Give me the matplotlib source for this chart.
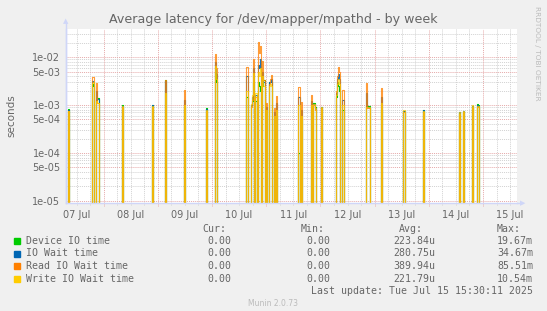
import numpy as np
import matplotlib
matplotlib.use("Agg")
import matplotlib.pyplot as plt

# ---------------- data ----------------
# hours after 07 Jul 00:00 (30-minute samples that are non-zero)
spike_hours = [8.5, 19.0, 19.5, 21.0, 21.5, 32.5, 45.5, 51.5, 60.0, 69.5,
               73.5, 74.0, 87.5, 89.5, 90.0, 90.5, 91.5, 92.5, 93.0, 93.5,
               94.5, 95.0, 96.0, 97.5, 98.0, 98.5, 99.5, 100.5, 110.5, 111.5,
               116.0, 117.0, 117.5, 118.0, 120.5, 127.0, 127.5, 128.0, 128.5, 130.0,
               140.5, 141.0, 141.5, 147.0, 157.0, 165.5, 181.5, 183.5, 187.5, 189.5,
               190.0]
device_io = [8.3e-4, 2.7e-3, 2.5e-3, 1.3e-3, 1.4e-3, 1.0e-3, 1.02e-3, 3.3e-3, 9.0e-4, 8.6e-4,
             5.0e-3, 3.0e-3, 1.5e-3, 1.0e-3, 1.2e-3, 3.0e-3, 1.2e-3, 3.0e-3, 2.5e-3, 1.95e-3,
             2.5e-3, 3.3e-3, 8.0e-4, 3.1e-3, 3.0e-3, 3.1e-3, 5.0e-4, 6.0e-4, 1.0e-4, 5.0e-4,
             8.0e-4, 1.09e-3, 1.09e-3, 9.0e-4, 9.1e-4, 1.5e-3, 3.1e-3, 2.5e-3, 2.0e-3, 8.0e-4,
             9.4e-4, 9.4e-4, 9.4e-4, 8.0e-4, 7.5e-4, 8.0e-4, 7.2e-4, 7.2e-4, 9.8e-4, 1.04e-3,
             1.0e-3]
io_wait = [8.0e-4, 3.2e-3, 3.0e-3, 2.0e-3, 1.35e-3, 9.8e-4, 1.0e-3, 3.2e-3, 1.3e-3, 8.3e-4,
           8.0e-3, 4.5e-3, 4.0e-3, 1.0e-3, 1.5e-3, 6.0e-3, 1.6e-3, 6.8e-3, 6.0e-3, 9.0e-3,
           5.0e-3, 3.0e-3, 9.0e-4, 3.0e-3, 3.0e-3, 3.5e-3, 7.0e-4, 1.1e-3, 1.5e-3, 8.0e-4,
           1.2e-3, 1.05e-3, 1.05e-3, 8.8e-4, 9.0e-4, 1.8e-3, 3.5e-3, 4.5e-3, 3.5e-3, 1.3e-3,
           1.8e-3, 9.2e-4, 9.2e-4, 1.5e-3, 7.5e-4, 7.8e-4, 7.0e-4, 7.4e-4, 9.6e-4, 1.0e-3,
           9.8e-4]
read_io_wait = [7.5e-4, 3.9e-3, 3.9e-3, 2.9e-3, 1.1e-3, 9.0e-4, 9.0e-4, 3.3e-3, 2.1e-3, 7.5e-4,
                1.17e-2, 6.0e-3, 6.2e-3, 9.0e-4, 1.3e-3, 9.2e-3, 1.5e-3, 2.1e-2, 1.2e-2, 1.7e-2,
                8.2e-3, 3.4e-3, 1.1e-3, 2.7e-3, 3.5e-3, 4.3e-3, 8.7e-4, 1.57e-3, 2.4e-3, 1.16e-3,
                1.6e-3, 1.0e-3, 1.0e-3, 8.0e-4, 8.5e-4, 2.0e-3, 4.0e-3, 6.3e-3, 5.0e-3, 2.07e-3,
                2.9e-3, 8.5e-4, 8.5e-4, 2.3e-3, 7.0e-4, 7.0e-4, 6.5e-4, 7.0e-4, 9.0e-4, 9.0e-4,
                9.0e-4]
write_io_wait = [7.6e-4, 2.9e-3, 3.0e-3, 1.2e-3, 1.1e-3, 9.4e-4, 9.5e-4, 1.8e-3, 1.0e-3, 7.8e-4,
                 6.5e-3, 3.5e-3, 2.0e-3, 1.05e-3, 1.65e-3, 4.7e-3, 1.8e-3, 5.0e-3, 4.0e-3, 6.0e-3,
                 4.0e-3, 2.5e-3, 8.0e-4, 2.5e-3, 2.8e-3, 2.5e-3, 6.0e-4, 8.0e-4, 1.0e-3, 6.0e-4,
                 1.0e-3, 1.05e-3, 1.05e-3, 8.5e-4, 9.0e-4, 1.6e-3, 2.8e-3, 3.5e-3, 2.8e-3, 1.0e-3,
                 9.0e-4, 9.0e-4, 9.0e-4, 1.1e-3, 7.9e-4, 7.6e-4, 7.0e-4, 7.6e-4, 1.0e-3, 9.6e-4,
                 9.6e-4]

series_names = ["Device IO time", "IO Wait time", "Read IO Wait time", "Write IO Wait time"]
series_colors = ["#00CC00", "#0066B3", "#FF8000", "#FFCC00"]
series_alpha = [1.0, 0.9, 0.78, 0.72]
cur_vals = ["0.00", "0.00", "0.00", "0.00"]
min_vals = ["0.00", "0.00", "0.00", "0.00"]
avg_vals = ["223.84u", "280.75u", "389.94u", "221.79u"]
max_vals = ["19.67m", "34.67m", "85.51m", "10.54m"]
day_labels = ["07 Jul", "08 Jul", "09 Jul", "10 Jul", "11 Jul", "12 Jul", "13 Jul", "14 Jul", "15 Jul"]
ytick_vals = [1e-5, 5e-5, 1e-4, 5e-4, 1e-3, 5e-3, 1e-2]

# ---------------- figure ----------------
W, H = 547, 311
fig = plt.figure(figsize=(W / 100, H / 100), dpi=100)
fig.patch.set_facecolor("#F0F0F0")

def fx(x):
    return x / W

def fy(y):
    return 1 - y / H

L, R, T, B = 66, 517, 28.5, 203
ax = fig.add_axes([fx(L), fy(B), (R - L) / W, (B - T) / H])
ax.set_facecolor("#FFFFFF")

x0, x1 = 7.35, 207.05
ylo, yhi = 8.95e-6, 0.04
ax.set_yscale("log")
ax.set_xlim(x0, x1)
ax.set_ylim(ylo, yhi)

# grid
minor_c = "#D2D2D2"
major_c = "#E6AAAA"
dash = (0, (1, 1))
for d in range(-6, -1):
    for k in range(1, 10):
        v = k * 10.0 ** d
        if ylo < v < yhi:
            if k in (1, 5):
                ax.axhline(v, color=major_c, lw=0.7, ls=dash, zorder=0.6)
            else:
                ax.axhline(v, color=minor_c, lw=0.7, ls=dash, zorder=0.5)
for h in np.arange(0, 216, 6):
    if x0 < h < x1:
        if h % 24 == 0:
            ax.axvline(h, ymin=-0.02, color=major_c, lw=0.7, ls=dash, zorder=0.6, clip_on=False)
        else:
            ax.axvline(h, ymin=-0.012, color=minor_c, lw=0.7, ls=dash, zorder=0.5, clip_on=False)

# series on a 30-minute grid, zero elsewhere (zero drawn below the floor)
t = np.arange(7.0, 207.5, 0.5)
for vals, col, al in zip([device_io, io_wait, read_io_wait, write_io_wait], series_colors, series_alpha):
    y = np.zeros_like(t)
    for hh, v in zip(spike_hours, vals):
        y[int(round((hh - 7.0) / 0.5))] = v
    y = np.maximum(y, ylo * 0.7)
    ax.plot(t, y, color=col, lw=0.8, alpha=al, zorder=2, drawstyle="steps-mid")

# axes styling
for s in ["top", "right"]:
    ax.spines[s].set_visible(False)
axis_c = "#CFD6F8"
for s in ["left", "bottom"]:
    ax.spines[s].set_color(axis_c)
    ax.spines[s].set_linewidth(1.0)
    ax.spines[s].set_zorder(3)

ax.set_yticks(ytick_vals)
ax.set_yticklabels([f"{v:.0e}" for v in ytick_vals])
ax.yaxis.set_minor_locator(matplotlib.ticker.NullLocator())
ax.set_xticks([12 + 24 * i for i in range(len(day_labels))])
ax.set_xticklabels(day_labels)
ax.tick_params(axis="both", length=0, labelsize=7, colors="#666666", pad=4)
ax.tick_params(axis="x", pad=5)

# arrows
fig.add_artist(plt.Line2D([fx(L), fx(L)], [fy(B), fy(23)], color=axis_c, lw=1.0))
fig.add_artist(plt.Line2D([fx(R), fx(522)], [fy(B), fy(B)], color=axis_c, lw=1.0))
fig.text(fx(L), fy(21), "\u25B2", color=axis_c, fontsize=5, ha="center", va="center")
fig.text(fx(523), fy(B), "\u25B6", color=axis_c, fontsize=5, ha="center", va="center")

txt_c = "#666666"
fig.text(fx(273), fy(19), "Average latency for /dev/mapper/mpathd - by week",
         ha="center", va="center", fontsize=9.1, color=txt_c)
fig.text(fx(11), fy(116), "seconds", rotation=90, ha="center", va="center",
         fontsize=7.5, color=txt_c)
fig.text(fx(537), fy(6), "RRDTOOL / TOBI OETIKER", rotation=270, ha="center", va="top",
         fontsize=5.3, color="#BBBBBB")

mono = "DejaVu Sans Mono"
fs = 7.1
hy = 229
fig.text(fx(202), fy(hy), "Cur:", family=mono, fontsize=fs, color=txt_c, va="center")
fig.text(fx(301), fy(hy), "Min:", family=mono, fontsize=fs, color=txt_c, va="center")
fig.text(fx(399), fy(hy), "Avg:", family=mono, fontsize=fs, color=txt_c, va="center")
fig.text(fx(497), fy(hy), "Max:", family=mono, fontsize=fs, color=txt_c, va="center")
rows = [241, 253.5, 266, 278.5]
for i, ry in enumerate(rows):
    fig.add_artist(matplotlib.patches.Rectangle((fx(14), fy(ry + 3)), 6 / W, 6 / H,
                                                color=series_colors[i], transform=fig.transFigure))
    fig.text(fx(26), fy(ry), series_names[i], family=mono, fontsize=fs, color=txt_c, va="center")
    fig.text(fx(231), fy(ry), cur_vals[i], family=mono, fontsize=fs, color=txt_c, va="center", ha="right")
    fig.text(fx(330), fy(ry), min_vals[i], family=mono, fontsize=fs, color=txt_c, va="center", ha="right")
    fig.text(fx(435), fy(ry), avg_vals[i], family=mono, fontsize=fs, color=txt_c, va="center", ha="right")
    fig.text(fx(533), fy(ry), max_vals[i], family=mono, fontsize=fs, color=txt_c, va="center", ha="right")
fig.text(fx(533), fy(291), "Last update: Tue Jul 15 15:30:11 2025", family=mono, fontsize=fs,
         color=txt_c, va="center", ha="right")
fig.text(fx(273), fy(303), "Munin 2.0.73", fontsize=5.5, color="#BBBBBB", ha="center", va="center")

fig.savefig("out.png", dpi=100, facecolor=fig.get_facecolor())
